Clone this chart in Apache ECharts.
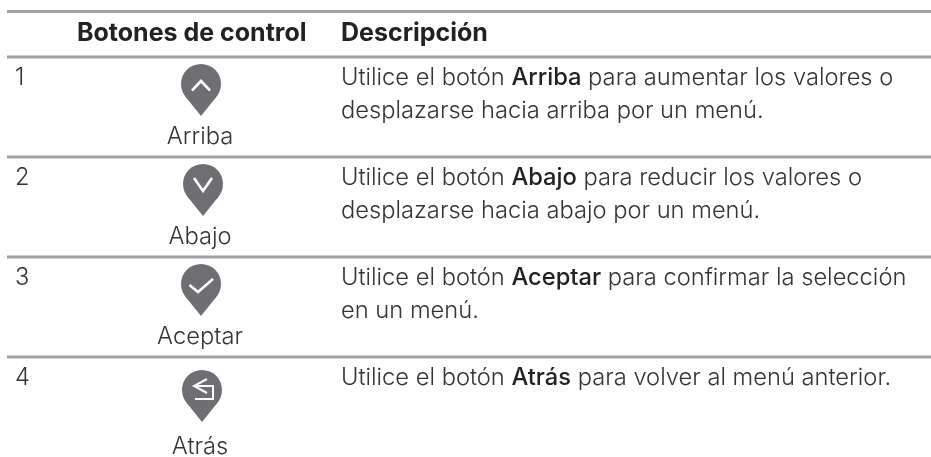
<!DOCTYPE html>
<html><head><meta charset="utf-8">
<style>html,body{margin:0;padding:0;background:#fff}#c{width:931px;height:457px}</style>
<script src="https://cdn.jsdelivr.net/npm/echarts@6/dist/echarts.min.js"></script>
</head><body><div id="c"></div>
<script>
const headers = ["Botones de control", "Descripción"];
const rowNumbers = ["1", "2", "3", "4"];
const buttonNames = ["Arriba", "Abajo", "Aceptar", "Atrás"];
const descriptionLine1 = [
  ["Utilice el botón ", "Arriba", " para aumentar los valores o"],
  ["Utilice el botón ", "Abajo", " para reducir los valores o"],
  ["Utilice el botón ", "Aceptar", " para confirmar la selección"],
  ["Utilice el botón ", "Atrás", " para volver al menú anterior."]
];
const descriptionLine2 = [
  "desplazarse hacia arriba por un menú.",
  "desplazarse hacia abajo por un menú.",
  "en un menú.",
  ""
];
const ruleRows = [11.5, 57, 157, 257, 357];
const iconKinds = ["up", "down", "ok", "back"];

const FONT = 'Inter';
const INK = '#333338';
const PIN = '#6e6e73';
const SIZE = 23.7;
const HEAD = 25;
const rowTop = ruleRows.slice(1);
const iconCx = [201, 203, 201, 202];
const iconTop = [64, 164, 264, 370];
const labelY = [136.5, 236.5, 336.5, 446.5];
const labelX = 200;

const g = [];
function text(x, y, t, o) {
  g.push({type:'text', x, y, style:Object.assign({text:t, fontFamily:FONT, fontSize:SIZE, fontWeight:300, fill:INK, textVerticalAlign:'middle', textAlign:'left'}, o||{})});
}
function poly(points, style) { g.push({type:'polyline', shape:{points}, style:Object.assign({stroke:'#fff', lineWidth:2.6, fill:null}, style||{})}); }
ruleRows.forEach(y => g.push({type:'rect', shape:{x:7,y:y-1.5,width:924,height:3}, style:{fill:'#a2a2a6'}}));
text(77, 33, headers[0], {fontWeight:700, fontSize:HEAD, fill:'#222'});
text(341, 33, headers[1], {fontWeight:700, fontSize:HEAD, fill:'#222'});
rowNumbers.forEach((n,i) => {
  text(15, rowTop[i]+21, n);
  const cx = iconCx[i], t = iconTop[i], r = 20, cy = t+r, tip = cy+32;
  const sa = r/32, ca = Math.sqrt(1-sa*sa);
  g.push({type:'circle', shape:{cx, cy, r}, style:{fill:PIN}});
  g.push({type:'polygon', shape:{points:[[cx-r*ca, cy+r*sa],[cx+r*ca, cy+r*sa],[cx, tip]]}, style:{fill:PIN}});
  const k = iconKinds[i];
  if (k==='up') poly([[cx-9,cy+6.5],[cx,cy-3],[cx+9,cy+6.5]]);
  if (k==='down') poly([[cx-9,cy-6],[cx,cy+7],[cx+9,cy-6]]);
  if (k==='ok') poly([[cx-11.5,cy+1],[cx-3,cy+8],[cx+12,cy-5]]);
  if (k==='back') {
    poly([[cx+5,cy-11],[cx-8,cy-4],[cx+5,cy+3]], {lineWidth:2});
    poly([[cx-8,cy-4],[cx+11,cy-4],[cx+11,cy+9],[cx-7,cy+9]], {lineWidth:2});
  }
  text(labelX, labelY[i], buttonNames[i], {textAlign:'center'});
  const l = descriptionLine1[i];
  g.push({type:'text', x:341, y:rowTop[i]+21, style:{
    text:`{n|${l[0]}}{b|${l[1]}}{n|${l[2]}}`,
    textVerticalAlign:'middle', textAlign:'left',
    rich:{n:{fontFamily:FONT,fontSize:SIZE,fontWeight:300,fill:INK}, b:{fontFamily:FONT,fontSize:SIZE,fontWeight:500,fill:'#222'}}
  }});
  if (descriptionLine2[i]) text(341, rowTop[i]+53.5, descriptionLine2[i]);
});
const chart = echarts.init(document.getElementById('c'), null, {renderer:'canvas'});
chart.setOption({animation:false, backgroundColor:'#fff', graphic:{elements:g}});
</script></body></html>
